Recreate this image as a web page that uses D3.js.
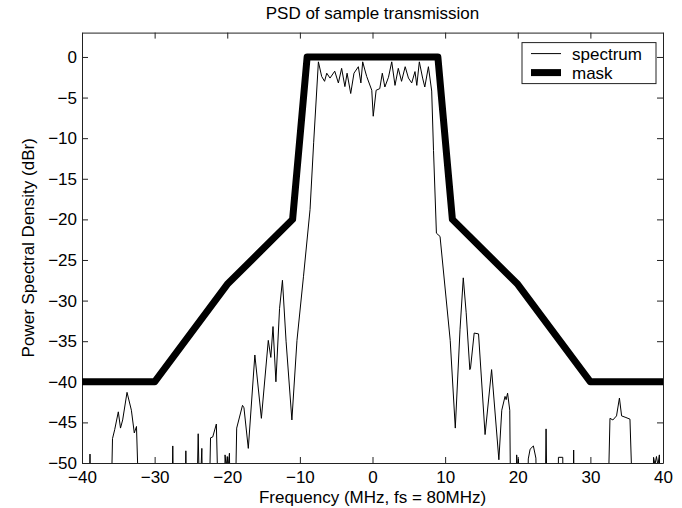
<!DOCTYPE html>
<html lang="en">
<head>
    <meta charset="UTF-8">
    <title>PSD</title>
    <script src="https://cdn.jsdelivr.net/npm/d3@7"></script>
    <style>
        body { margin: 0; background: #fff; }
        text { font-family: "Liberation Sans", Arial, sans-serif; fill: #000; }
        .axis text { font-size: 17px; }
        .axis path, .axis line { stroke: #222; }
    </style>
</head>
<body>
<div id="chart"></div>
<script>
    // spectrum (values below -50 are cut off by the axes)
    var freq = [-40, -39.1, -38.9, -38.7, -36.1, -35.8, -35.5, -35.0, -34.7, -34.4, -33.8, -33.2, -32.8, -32.5, -32.0,
        -27.7, -27.5, -27.3, -25.9, -25.7, -25.5, -24.3, -24.0, -23.8, -23.5, -23.3, -22.6, -22.3, -22.0, -21.5, -21.1,
        -20.5, -20.3, -20.15, -20.0, -19.85, -19.7, -19.5, -19.0, -18.7, -17.9, -17.7, -17.1, -16.2, -15.3,
        -14.35, -14.0, -13.7, -13.3, -12.8, -12.4, -11.9, -11.1, -10.4, -9.5, -8.6, -8.1, -7.45,
        -7.0, -6.6, -6.3, -5.85, -5.2, -4.7, -4.25, -3.8, -3.5, -3.0, -2.55, -1.95, -1.6, -1.35, -1.05, -0.8, -0.1,
        0.1, 0.5, 1.0, 1.35, 1.7, 2.2, 2.65, 3.1, 3.55, 4.0, 4.5, 4.95, 5.4, 5.85, 6.1, 6.45, 6.9, 7.2, 7.7, 8.15,
        8.4, 8.8, 9.3, 10.7, 11.4, 12.05, 12.5, 12.9, 13.4, 13.5, 14.0, 14.6, 15.5, 16.4, 17.4, 17.8, 18.25, 18.4,
        18.6, 18.9, 19.07, 19.7, 19.85, 20.0, 20.1, 20.3, 21.3, 21.45, 21.7, 22.15, 22.5, 22.7, 23.7, 23.9, 24.1,
        25.5, 25.6, 26.2, 26.3, 27.55, 27.7, 27.85, 32.3, 32.7, 33.1, 33.6, 34.0, 34.3, 34.9, 35.45, 36.0,
        38.5, 38.7, 38.9, 39.1, 39.3, 39.5, 39.7, 40];
    var psd = [-60, -60, -48.9, -60, -60, -47, -45.9, -43.7, -45.7, -44.7, -41.3, -43.5, -46.3, -45.5, -60,
        -60, -47.9, -60, -60, -48.5, -60, -60, -46.4, -55, -48.2, -60, -60, -46.9, -46.8, -45.2, -60,
        -60, -49, -50.5, -49.2, -50.5, -48.8, -60, -60, -45.7, -42.9, -43.2, -48.2, -36.7, -44.5,
        -34.9, -37, -33.2, -40, -31, -27.5, -35, -44.7, -34.9, -27, -18.8, -10.5, -0.6,
        -2.4, -3.0, -2.0, -2.6, -1.75, -3.2, -1.4, -3.65, -2.0, -4.5, -2.0, -1.2, -3.2, -0.6, -1.6, -2.4, -4.1,
        -7.3, -4.1, -3.9, -2.0, -3.7, -2.5, -0.6, -3.5, -1.4, -3.0, -1.2, -2.6, -3.2, -1.8, -3.5, -0.6, -2.6, -3.7, -1.2, -4.2,
        -11.5, -21.7, -22.1, -34.9, -45.7, -33.6, -27.2, -31.5, -38.5, -38.3, -34, -34.1, -46.5, -38.5, -49.6, -43.5, -41.8, -42.2,
        -41.4, -43.5, -60, -60, -49, -51, -49.5, -60, -60, -49.5, -48.3, -47.9, -49.4, -60, -60, -45.8, -60,
        -60, -49.3, -49.3, -60, -60, -48.4, -60, -60, -44.5, -44.7, -44.2, -42.0, -44.2, -44.4, -44.6, -60,
        -60, -49.3, -50.2, -49.2, -50.3, -49.0, -60, -60];

    // spectral mask
    var maskFreq = [-40, -30, -20, -11, -9, 9, 11, 20, 30, 40];
    var maskLevel = [-40, -40, -28, -20, 0, 0, -20, -28, -40, -40];

    var xTicks = [-40, -30, -20, -10, 0, 10, 20, 30, 40];
    var yTicks = [0, -5, -10, -15, -20, -25, -30, -35, -40, -45, -50];

    var width = 682, height = 508;
    var margin = {top: 32.6, right: 19, bottom: 45, left: 82};
    var w = width - margin.left - margin.right;
    var h = height - margin.top - margin.bottom;

    var x = d3.scaleLinear().domain([-40, 40]).range([0, w]);
    var y = d3.scaleLinear().domain([-50, 3]).range([h, 0]);

    var svg = d3.select("#chart")
                .append("svg")
                .attr("width", width)
                .attr("height", height);

    var g = svg.append("g")
                .attr("transform", "translate(" + margin.left + "," + margin.top + ")");

    svg.append("defs").append("clipPath")
            .attr("id", "plot")
            .append("rect")
            .attr("width", w)
            .attr("height", h);

    // axes, ticks pointing inward on all four sides
    g.append("g").attr("class", "axis")
            .attr("transform", "translate(0," + h + ")")
            .call(d3.axisBottom(x).tickValues(xTicks).tickSizeInner(-6).tickSizeOuter(0).tickPadding(8));
    g.append("g").attr("class", "axis")
            .call(d3.axisLeft(y).tickValues(yTicks).tickSizeInner(-6).tickSizeOuter(0).tickPadding(5));
    g.append("g").attr("class", "axis")
            .call(d3.axisTop(x).tickValues(xTicks).tickSizeInner(-6).tickSizeOuter(0).tickFormat(""));
    g.append("g").attr("class", "axis")
            .attr("transform", "translate(" + w + ",0)")
            .call(d3.axisRight(y).tickValues(yTicks).tickSizeInner(-6).tickSizeOuter(0).tickFormat(""));

    var line = d3.line()
                .x(function (d) { return x(d[0]); })
                .y(function (d) { return y(d[1]); });

    var plot = g.append("g").attr("clip-path", "url(#plot)");

    plot.append("path")
            .datum(d3.zip(freq, psd))
            .attr("d", line)
            .attr("fill", "none")
            .attr("stroke", "#000")
            .attr("stroke-width", 1);

    plot.append("path")
            .datum(d3.zip(maskFreq, maskLevel))
            .attr("d", line)
            .attr("fill", "none")
            .attr("stroke", "#000")
            .attr("stroke-width", 7)
            .attr("stroke-linejoin", "round");

    // legend
    var legend = g.append("g")
                .attr("transform", "translate(" + (w - 141) + ",10)");
    legend.append("rect")
            .attr("width", 134)
            .attr("height", 41)
            .attr("fill", "#fff")
            .attr("stroke", "#222");
    var items = [{name: "spectrum", sw: 1}, {name: "mask", sw: 7}];
    items.forEach(function (d, i) {
        legend.append("line")
                .attr("x1", 9).attr("x2", 39)
                .attr("y1", 11 + i * 19).attr("y2", 11 + i * 19)
                .attr("stroke", "#000")
                .attr("stroke-width", d.sw);
        legend.append("text")
                .attr("x", 50)
                .attr("y", 11 + i * 19)
                .attr("dy", "0.35em")
                .style("font-size", "17px")
                .text(d.name);
    });

    // titles
    svg.append("text")
            .attr("x", margin.left + w / 2)
            .attr("y", 19)
            .attr("text-anchor", "middle")
            .style("font-size", "17px")
            .text("PSD of sample transmission");
    svg.append("text")
            .attr("x", margin.left + w / 2)
            .attr("y", 503)
            .attr("text-anchor", "middle")
            .style("font-size", "17px")
            .text("Frequency (MHz, fs = 80MHz)");
    svg.append("text")
            .attr("transform", "translate(34," + (margin.top + h / 2) + ")rotate(-90)")
            .attr("text-anchor", "middle")
            .style("font-size", "17px")
            .text("Power Spectral Density (dBr)");
</script>
</body>
</html>
